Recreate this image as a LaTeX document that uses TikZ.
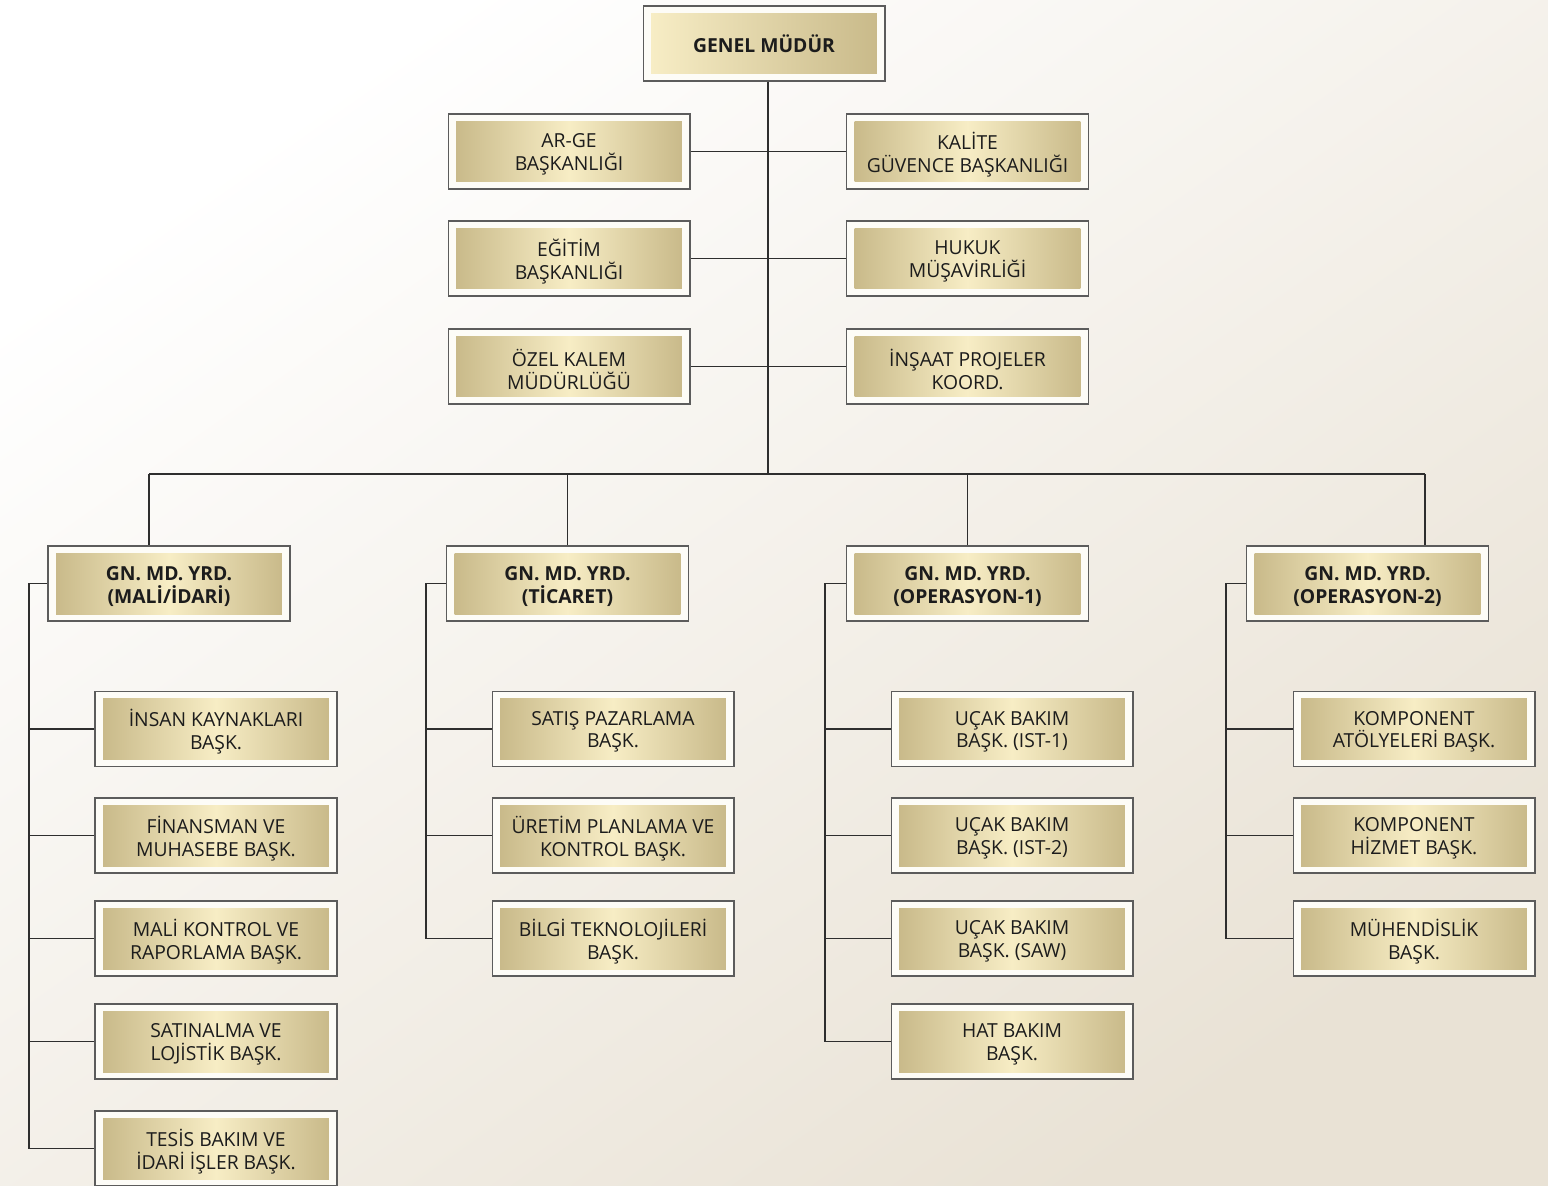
\documentclass[tikz,border=0pt]{standalone}
\usepackage{fontspec}
\setmainfont{Open Sans}
\usetikzlibrary{positioning, calc}
\definecolor{Ink}{HTML}{1C1C1C}
\definecolor{Wire}{HTML}{2E2E2E}
\definecolor{Rim}{HTML}{5C5C5C}
\definecolor{Paper}{HTML}{FDFCF7}
\definecolor{Ground}{HTML}{E9E2D5}
\definecolor{GoldDark}{HTML}{C9BA8A}
\definecolor{GoldLight}{HTML}{F7EDC5}
\tikzset{
    frame/.style={rectangle, draw=Rim, fill=Paper, line width=0.6pt, minimum width=4.84cm, minimum height=1.5cm, inner sep=0pt},
    gold/.style={rectangle, left color=GoldDark, right color=GoldDark, middle color=GoldLight, minimum width=4.52cm, minimum height=1.22cm,
                 inner sep=0pt},
    goldtop/.style={left color=GoldLight, right color=GoldDark},
    caption/.style={align=center, text=Ink, inner sep=0pt, font=\fontsize{11}{13}\selectfont},
    boss/.style={font=\bfseries\fontsize{11}{13}\selectfont},
    wire/.style={draw=Wire, line width=0.6pt},
}
% kutu: dis cerceve + altin ic + yazi
\newcommand{\birim}[5][]{%
    \node[frame] (#3) at #4 {};
    \node[gold, #1] at (#3.center) {};
    \node[caption, #2] at ([yshift=-1.6pt]#3.center) {#5};}

\begin{document}
\begin{tikzpicture}[x=0.02cm, y=-0.02cm]

    % --- Zemin ---
    \clip (0,0) rectangle (1548,1186);
    \shade[top color=white, bottom color=Ground, shading angle=35]
        (0,0) rectangle (1548,1186);

    % --- Genel Mudur ve bagli birimler ---
    \birim[goldtop]{boss, yshift=1.4pt}{gm}{(764,43.5)}{GENEL MÜDÜR}

    \birim{}{arge}{(569,151.5)}{AR-GE\\BAŞKANLIĞI}
    \birim{}{kalite}{(967.5,151.5)}{KALİTE\\GÜVENCE BAŞKANLIĞI}
    \birim{}{egitim}{(569,258.5)}{EĞİTİM\\BAŞKANLIĞI}
    \birim{}{hukuk}{(967.5,258.5)}{HUKUK\\MÜŞAVİRLİĞİ}
    \birim{}{ozel}{(569,366.5)}{ÖZEL KALEM\\MÜDÜRLÜĞÜ}
    \birim{}{insaat}{(967.5,366.5)}{İNŞAAT PROJELER\\KOORD.}

    % --- Yardimcilar ---
    \birim{boss}{yrd1}{(169,583.5)}{GN. MD. YRD.\\(MALİ/İDARİ)}
    \birim{boss}{yrd2}{(567.5,583.5)}{GN. MD. YRD.\\(TİCARET)}
    \birim{boss}{yrd3}{(967.5,583.5)}{GN. MD. YRD.\\(OPERASYON-1)}
    \birim{boss}{yrd4}{(1367.5,583.5)}{GN. MD. YRD.\\(OPERASYON-2)}

    % --- Baskanliklar ---
    \birim{}{ik}{(216,729)}{İNSAN KAYNAKLARI\\BAŞK.}
    \birim{}{fin}{(216,835.5)}{FİNANSMAN VE\\MUHASEBE BAŞK.}
    \birim{}{mali}{(216,938.5)}{MALİ KONTROL VE\\RAPORLAMA BAŞK.}
    \birim{}{satin}{(216,1041.5)}{SATINALMA VE\\LOJİSTİK BAŞK.}
    \birim{}{tesis}{(216,1148.5)}{TESİS BAKIM VE\\İDARİ İŞLER BAŞK.}

    \birim{}{satis}{(613,729)}{SATIŞ PAZARLAMA\\BAŞK.}
    \birim{}{uretim}{(613,835.5)}{ÜRETİM PLANLAMA VE\\KONTROL BAŞK.}
    \birim{}{bilgi}{(613,938.5)}{BİLGİ TEKNOLOJİLERİ\\BAŞK.}

    \birim{}{ucak1}{(1012,729)}{UÇAK BAKIM\\BAŞK. (IST-1)}
    \birim{}{ucak2}{(1012,835.5)}{UÇAK BAKIM\\BAŞK. (IST-2)}
    \birim{}{ucak3}{(1012,938.5)}{UÇAK BAKIM\\BAŞK. (SAW)}
    \birim{}{hat}{(1012,1041.5)}{HAT BAKIM\\BAŞK.}

    \birim{}{komp1}{(1414,729)}{KOMPONENT\\ATÖLYELERİ BAŞK.}
    \birim{}{komp2}{(1414,835.5)}{KOMPONENT\\HİZMET BAŞK.}
    \birim{}{muh}{(1414,938.5)}{MÜHENDİSLİK\\BAŞK.}

    % --- Baglantilar ---
    \coordinate (bus) at (768,474);
    \coordinate (busL) at (149,474);
    \coordinate (busR) at (1425,474);
    \path[wire] (bus |- gm.south) -- (bus);
    \path[wire] (busL) -- (busR);
    \path[wire] (arge.east) -- (kalite.west);
    \path[wire] (egitim.east) -- (hukuk.west);
    \path[wire] (ozel.east) -- (insaat.west);

    \path[wire] (busL) -- (busL |- yrd1.north);
    \path[wire] (yrd2.north |- bus) -- (yrd2.north);
    \path[wire] (yrd3.north |- bus) -- (yrd3.north);
    \path[wire] (busR) -- (busR |- yrd4.north);

    % sol kollar
    \coordinate (s1) at (29,583.5);
    \coordinate (s2) at (426,583.5);
    \coordinate (s3) at (825,583.5);
    \coordinate (s4) at (1226,583.5);
    \path[wire] (yrd1.west) -- (s1) -- (s1 |- tesis.west);
    \path[wire] (yrd2.west) -- (s2) -- (s2 |- bilgi.west);
    \path[wire] (yrd3.west) -- (s3) -- (s3 |- hat.west);
    \path[wire] (yrd4.west) -- (s4) -- (s4 |- muh.west);
    \foreach \b in {ik, fin, mali, satin, tesis} \path[wire] (s1 |- \b.west) -- (\b.west);
    \foreach \b in {satis, uretim, bilgi} \path[wire] (s2 |- \b.west) -- (\b.west);
    \foreach \b in {ucak1, ucak2, ucak3, hat} \path[wire] (s3 |- \b.west) -- (\b.west);
    \foreach \b in {komp1, komp2, muh} \path[wire] (s4 |- \b.west) -- (\b.west);

\end{tikzpicture}
\end{document}
